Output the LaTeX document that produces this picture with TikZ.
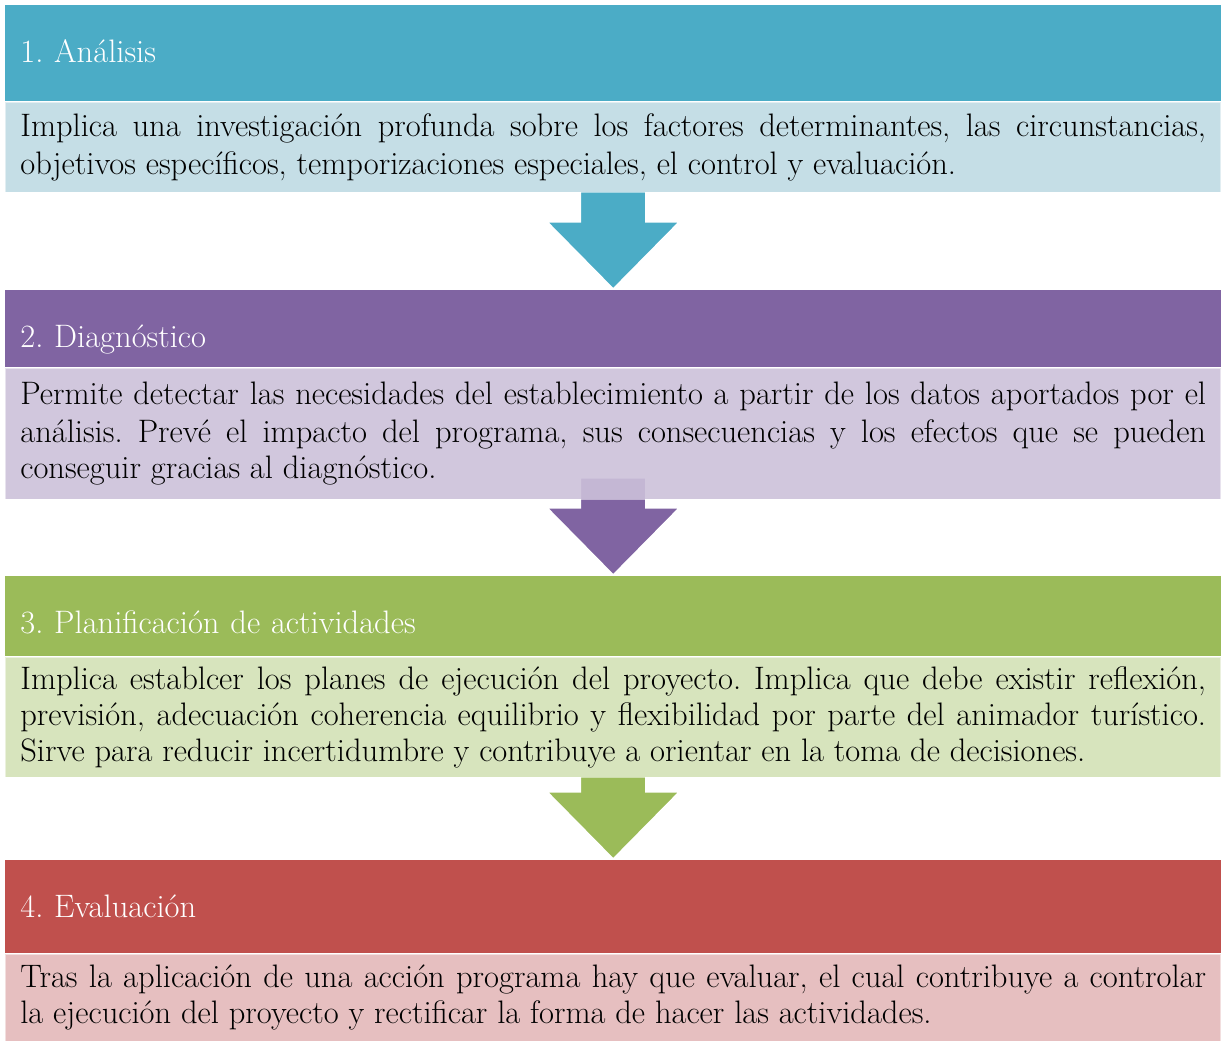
\documentclass[tikz,border=0pt]{standalone}
\usetikzlibrary{positioning, calc, backgrounds}
\definecolor{stepaqua}{HTML}{4BACC6}
\definecolor{stepaqualight}{HTML}{C5DEE6}
\definecolor{steppurple}{HTML}{8064A2}
\definecolor{steppurplelight}{HTML}{CCC1DA}
\definecolor{stepgreen}{HTML}{9BBB59}
\definecolor{stepgreenlight}{HTML}{D7E4BD}
\definecolor{stepred}{HTML}{C0504D}
\definecolor{stepredlight}{HTML}{E6BFC0}
\frenchspacing

\begin{document}
\begin{tikzpicture}[x=0.02cm, y=-0.02cm,
        every node/.style={font=\fontsize{18.5}{20.5}\selectfont},
        header/.style={anchor=north west, minimum width=24.32cm, inner xsep=0.3cm, inner ysep=0pt,
            text width=23.72cm, text height=1.14cm, text depth=#1, align=left, text=white},
        body/.style={below=0pt of #1, minimum width=24.32cm, inner xsep=0.3cm,
            text width=23.72cm, align=justify, draw=white, draw opacity=0.5, line width=0.8pt},
        downarrow/.style={draw=white, line width=1.7pt, fill=#1}
    ]
      \useasboundingbox (0,0) rectangle (1225,1042);

      % 1. Analisis
      \node[header=0.78cm, fill=stepaqua] (head1) at (5,5) {1. Análisis};
      \node[body=head1, fill=stepaqualight, minimum height=1.8cm] (body1) {\vspace{0.04cm}Implica una investigación profunda sobre los factores determinantes, las circunstancias,\linebreak objetivos específicos, temporizaciones especiales, el control y evaluación.};

      % 2. Diagnostico
      \node[header=0.40cm, fill=steppurple] (head2) at (5,290) {2. Diagnóstico};
      \node[body=head2, fill=steppurplelight, fill opacity=0.9, text opacity=1, minimum height=2.62cm] (body2) {\vspace{0.04cm}Permite detectar las necesidades del establecimiento a partir de los datos aportados por el\linebreak análisis. Prevé el impacto del programa, sus consecuencias y los efectos que se pueden\linebreak conseguir gracias al diagnóstico.};

      % 3. Planificacion
      \node[header=0.46cm, fill=stepgreen] (head3) at (5,576) {3. Planificación de actividades};
      \node[body=head3, fill=stepgreenlight, minimum height=2.4cm] (body3) {Implica establcer los planes de ejecución del proyecto. Implica que debe existir reflexión,\linebreak previsión, adecuación coherencia equilibrio y flexibilidad por parte del animador turístico.\linebreak Sirve para reducir incertidumbre y contribuye a orientar en la toma de decisiones.};

      % 4. Evaluacion
      \node[header=0.72cm, fill=stepred] (head4) at (5,860) {4. Evaluación};
      \node[body=head4, fill=stepredlight, minimum height=1.74cm] (body4) {Tras la aplicación de una acción programa hay que evaluar, el cual contribuye a controlar\linebreak la ejecución del proyecto y rectificar la forma de hacer las actividades.};

      % block arrows between the steps
      \begin{scope}[on background layer]
        \fill[white] (0,0) rectangle (1225,1042);
        \foreach \from/\to/\up/\col in {body1/head2/4/stepaqua, body2/head3/23/steppurple, body3/head4/4/stepgreen}
          \draw[downarrow=\col] ($(\from.south)+(-33.5,-\up)$) -- ($(\to.north)+(-33.5,-69)$)
            -- ++(-34.5,0) -- (\to.north) -- ($(\to.north)+(68,-69)$) -- ++(-34.5,0)
            -- ($(\from.south)+(33.5,-\up)$) -- cycle;
      \end{scope}
    \end{tikzpicture}
\end{document}
